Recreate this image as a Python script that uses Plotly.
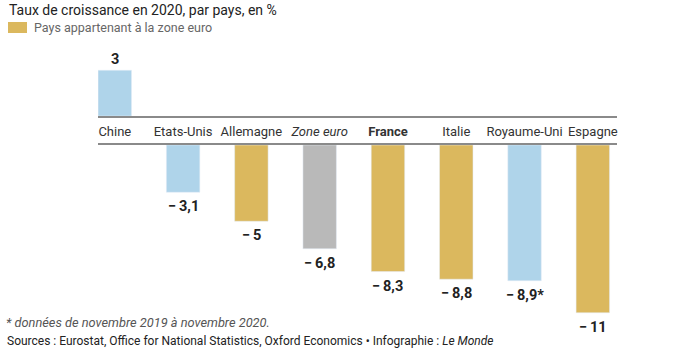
import plotly.graph_objects as go

categories = ["Chine", "Etats-Unis", "Allemagne", "Zone euro", "France", "Italie", "Royaume-Uni", "Espagne"]
tick_labels = ["Chine", "Etats-Unis", "Allemagne", "<i>Zone euro</i>", "<b>France</b>", "Italie", "Royaume-Uni", "Espagne"]
growth = [3.0, -3.1, -5.0, -6.8, -8.3, -8.8, -8.9, -11.0]
group = ["hors", "hors", "euro", "agg", "euro", "euro", "hors", "euro"]
notes = ["", "", "", "", "", "", "*", ""]

COLORS = {"euro": "#DBB85E", "hors": "#AFD4EA", "agg": "#B9B9B9"}
FONT = "Roboto"
W, H = 700, 352
PX_PER_UNIT = 15.25
TOP_BASE_PX = 116
BOT_BASE_PX = 145
X_LEFT_PX, X_RIGHT_PX = 98, 617


def fmt(v, note):
    a = abs(v)
    s = (f"{a:.0f}" if a == int(a) else f"{a:.1f}").replace(".", ",")
    return ("\u2212\u2009" if v < 0 else "") + s + note


bar_colors = [COLORS[g] for g in group]
pos_vals = [v if v > 0 else None for v in growth]
neg_vals = [v if v < 0 else None for v in growth]

fig = go.Figure()
fig.add_trace(go.Bar(x=categories, y=pos_vals, marker_color=bar_colors,
                     xaxis="x", yaxis="y", hoverinfo="skip"))
fig.add_trace(go.Bar(x=categories, y=neg_vals, marker_color=bar_colors,
                     xaxis="x2", yaxis="y2", hoverinfo="skip"))

# value labels
for c, v, n in zip(categories, growth, notes):
    if v > 0:
        fig.add_annotation(x=c, y=v, xref="x", yref="y", text="<b>" + fmt(v, n) + "</b>",
                           showarrow=False, yanchor="bottom", yshift=0,
                           font=dict(family=FONT, size=14.5, color="#222"))
    else:
        fig.add_annotation(x=c, y=v, xref="x2", yref="y2", text="<b>" + fmt(v, n) + "</b>",
                           showarrow=False, yanchor="top", yshift=-4,
                           font=dict(family=FONT, size=14.5, color="#222"))

top_dom = [1 - TOP_BASE_PX / H, 1.0]
bot_dom = [0.0, 1 - BOT_BASE_PX / H]
top_range = [0, TOP_BASE_PX / PX_PER_UNIT]
bot_range = [-(H - BOT_BASE_PX) / PX_PER_UNIT, 0]

ncat = len(categories)
xr = [-0.246, ncat - 1 + 0.354]
xdom = [X_LEFT_PX / W, X_RIGHT_PX / W]

fig.update_layout(
    width=W, height=H, margin=dict(l=0, r=0, t=0, b=0),
    paper_bgcolor="white", plot_bgcolor="white",
    showlegend=False, bargap=0.51,
    font=dict(family=FONT, color="#333"),
    xaxis=dict(domain=xdom, range=xr, anchor="y", type="category",
               showline=True, linecolor="#8a8a8a", linewidth=1.5,
               showgrid=False, zeroline=False, ticks="",
               tickvals=categories, ticktext=tick_labels,
               tickfont=dict(family=FONT, size=13, color="#333"),
               ticklabelstandoff=3),
    xaxis2=dict(domain=xdom, range=xr, anchor="y2", type="category", side="top",
                showline=True, linecolor="#8a8a8a", linewidth=1.5,
                showgrid=False, zeroline=False, showticklabels=False, ticks=""),
    yaxis=dict(domain=top_dom, range=top_range, anchor="x", visible=False),
    yaxis2=dict(domain=bot_dom, range=bot_range, anchor="x2", visible=False),
)

# title, legend, footnotes
fig.add_annotation(x=7 / W, y=1 - 10.5 / H, xref="paper", yref="paper", xanchor="left", yanchor="middle",
                   text="Taux de croissance en 2020, par pays, en %", showarrow=False,
                   font=dict(family=FONT, size=14, color="#222"))
fig.add_shape(type="rect", xref="paper", yref="paper",
              x0=8 / W, x1=27 / W, y0=1 - 33 / H, y1=1 - 22 / H,
              fillcolor=COLORS["euro"], line=dict(width=0))
fig.add_annotation(x=32 / W, y=1 - 27.5 / H, xref="paper", yref="paper", xanchor="left", yanchor="middle",
                   text="Pays appartenant à la zone euro", showarrow=False,
                   font=dict(family=FONT, size=12.5, color="#666"))
fig.add_annotation(x=4 / W, y=1 - 322 / H, xref="paper", yref="paper", xanchor="left", yanchor="middle",
                   text="<i>* données de novembre 2019 à novembre 2020.</i>", showarrow=False,
                   font=dict(family=FONT, size=12.8, color="#555"))
fig.add_annotation(x=5 / W, y=1 - 341 / H, xref="paper", yref="paper", xanchor="left", yanchor="middle",
                   text="Sources : Eurostat, Office for National Statistics, Oxford Economics • Infographie : <i>Le Monde</i>",
                   showarrow=False, font=dict(family=FONT, size=12, color="#222"))

fig.write_html("out.html")
